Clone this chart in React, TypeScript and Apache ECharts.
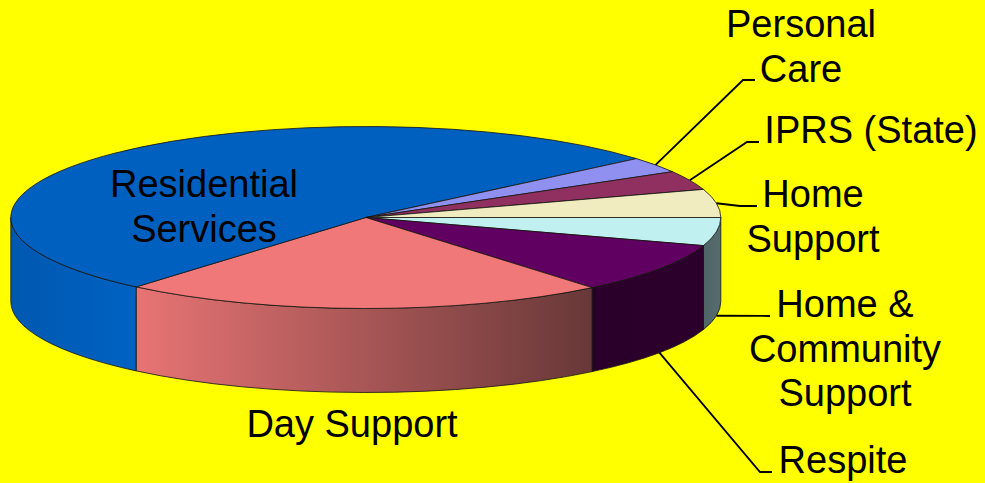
import React, { useEffect, useRef } from "react";
import * as echarts from "echarts";

// Share of the total, in percent, going clockwise from the 3 o'clock spoke
const categories = [
  "Home & Community Support",
  "Respite",
  "Day Support",
  "Residential Services",
  "Personal Care",
  "IPRS (State)",
  "Home Support",
];
const shares = [5.0, 9.0, 22.2, 52.6, 2.8, 3.4, 5.0];

const topColors = ["#C0F0F0", "#600060", "#F07878", "#0060C0", "#9090F0", "#903060", "#F0ECC0"];
const sideLeft = ["#506466", "#2A002A", "#E87474", "#0058B0", "#9090F0", "#903060", "#F0ECC0"];
const sideRight = ["#566C6E", "#2C002C", "#683838", "#0062C2", "#9090F0", "#903060", "#F0ECC0"];

const labelLines = [
  ["Home &", "Community", "Support"],
  ["Respite"],
  ["Day Support"],
  ["Residential", "Services"],
  ["Personal", "Care"],
  ["IPRS (State)"],
  ["Home", "Support"],
];
// label centre x, first line centre y
const labelAnchors = [
  [845, 304],
  [843, 460],
  [352, 424],
  [204, 184],
  [801, 24],
  [871, 130],
  [813, 194],
];
// leader line: elbow and end; null = no leader
const leaderBends: (number[][] | null)[] = [
  [[770, 316]],
  [[760, 472], [772, 472]],
  null,
  null,
  [[743, 80], [755, 80]],
  [[747, 142], [759, 142]],
  [[740, 206], [757, 206]],
];

const CX = 365.8;
const CY = 217.5;
const RX = 355;
const RY = 91;
const DEPTH = 84;
const FONT = '"Liberation Sans", Arial, sans-serif';
const FONT_SIZE = 38;
const LINE_GAP = 44.5;

const total = shares.reduce((a, b) => a + b, 0);
const rad = (deg: number) => (deg * Math.PI) / 180;
const px = (deg: number) => CX + RX * Math.cos(rad(deg));
const py = (deg: number) => CY + RY * Math.sin(rad(deg));

function angleRange(i: number) {
  let before = 0;
  for (let k = 0; k < i; k++) before += shares[k];
  return [(before / total) * 360, ((before + shares[i]) / total) * 360];
}

function topPath(a0: number, a1: number) {
  const large = a1 - a0 > 180 ? 1 : 0;
  return `M${CX} ${CY}L${px(a0)} ${py(a0)}A${RX} ${RY} 0 ${large} 1 ${px(a1)} ${py(a1)}Z`;
}

function sidePath(a0: number, a1: number) {
  return (
    `M${px(a0)} ${py(a0)}A${RX} ${RY} 0 0 1 ${px(a1)} ${py(a1)}` +
    `L${px(a1)} ${py(a1) + DEPTH}A${RX} ${RY} 0 0 0 ${px(a0)} ${py(a0) + DEPTH}Z`
  );
}

function renderSlice(_params: any, api: any) {
  const i = api.value(2) as number;
  const [a0, a1] = angleRange(i);
  const mid = (a0 + a1) / 2;
  const children: any[] = [];
  const edge = { stroke: "rgba(20,20,20,0.8)", lineWidth: 1 };

  if (a0 < 180) {
    const s0 = a0;
    const s1 = Math.min(a1, 180);
    children.push({
      type: "path",
      shape: { pathData: sidePath(s0, s1) },
      style: {
        fill: new echarts.graphic.LinearGradient(0, 0, 1, 0, [
          { offset: 0, color: sideLeft[i] },
          { offset: 1, color: sideRight[i] },
        ]),
        ...edge,
      },
    });
  }
  children.push({
    type: "path",
    shape: { pathData: topPath(a0, a1) },
    style: { fill: topColors[i], ...edge },
  });

  const bends = leaderBends[i];
  if (bends) {
    const front = mid > 0 && mid < 180;
    const start = [px(mid), py(mid) + (front ? DEPTH : 0)];
    children.push({
      type: "polyline",
      shape: { points: [start, ...bends] },
      style: { stroke: "#000", lineWidth: 1.8, fill: "none" },
      z2: 20,
    });
  }

  labelLines[i].forEach((line, k) => {
    children.push({
      type: "text",
      x: labelAnchors[i][0],
      y: labelAnchors[i][1] + k * LINE_GAP,
      style: {
        text: line,
        fill: "#000",
        font: `${FONT_SIZE}px ${FONT}`,
        align: "center",
        verticalAlign: "middle",
      },
      z2: 30,
    });
  });

  return { type: "group", children };
}

export default function App() {
  const ref = useRef<HTMLDivElement>(null);
  useEffect(() => {
    document.body.style.margin = "0";
    const chart = echarts.init(ref.current!, null, { renderer: "svg" });
    chart.setOption({
      animation: false,
      backgroundColor: "#FFFF00",
      series: [
        {
          type: "custom",
          coordinateSystem: "none",
          renderItem: renderSlice,
          clip: false,
          silent: true,
          data: categories.map((name, i) => ({ name, value: [name, shares[i], i] })),
        },
      ],
    });
    return () => chart.dispose();
  }, []);
  return <div ref={ref} style={{ width: 985, height: 483 }} />;
}
